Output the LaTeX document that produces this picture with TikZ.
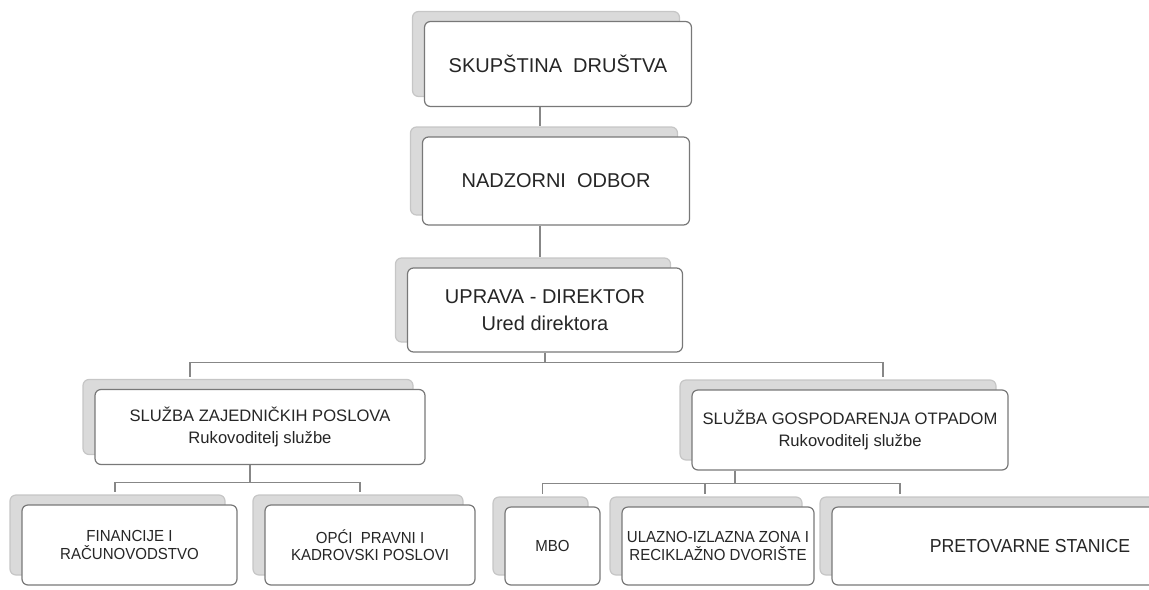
\documentclass[tikz,border=0pt]{standalone}
\usepackage{fontspec}
\setmainfont{Liberation Sans}
\usepackage{tikz}
\usetikzlibrary{shadows, calc}
\usepackage{xcolor}
\definecolor{boxgray}{RGB}{120,120,120}
\definecolor{shadegray}{RGB}{218,218,218}
\definecolor{linegray}{RGB}{135,135,135}

\begin{document}
\begin{tikzpicture}[
    x=0.5pt, y=-0.5pt,
    unit/.style={draw=boxgray, fill=white, rounded corners=3pt, line width=0.6pt, inner sep=0pt,
        align=center, text=black!85,
        copy shadow={shadow xshift=-6pt, shadow yshift=5pt, fill=shadegray, draw=gray!45}},
    big/.style={unit, font=\fontsize{10}{13.5}\selectfont},
    mid/.style={unit, font=\fontsize{8.3}{11}\selectfont},
    small/.style={unit, font=\fontsize{8}{8.6}\selectfont\addfontfeature{FakeStretch=0.94}},
    link/.style={draw=linegray, line width=0.6pt}
]
    \useasboundingbox (0,0) rectangle (1149,589);

    % Nodes
    \node[big, minimum width=133.5pt, minimum height=42.5pt] (skup) at (558,64) {SKUPŠTINA\ \ DRUŠTVA};
    \node[big, minimum width=133.5pt, minimum height=44pt] (nadz) at (556,181) {NADZORNI\ \ ODBOR};
    \node[big, minimum width=137.5pt, minimum height=42pt] (upr) at (545,310) {UPRAVA - DIREKTOR\\Ured direktora};

    \node[mid, minimum width=165pt, minimum height=37.5pt] (szp) at (260,427) {SLUŽBA ZAJEDNIČKIH POSLOVA\\Rukovoditelj službe};
    \node[mid, minimum width=158pt, minimum height=40pt] (sgo) at (850,430) {SLUŽBA GOSPODARENJA OTPADOM\\Rukovoditelj službe};

    \node[small, minimum width=107.5pt, minimum height=40pt] (fin) at (129.5,545) {FINANCIJE I\\RAČUNOVODSTVO};
    \node[small, minimum width=105pt, minimum height=40pt] (opci) at (370,545) {OPĆI\ \ PRAVNI I\\KADROVSKI POSLOVI};
    \node[small, minimum width=47.5pt, minimum height=39pt] (mbo) at (552.5,546) {MBO};
    \node[small, minimum width=96pt, minimum height=39pt] (ulaz) at (718,546) {ULAZNO-IZLAZNA ZONA I\\RECIKLAŽNO DVORIŠTE};
    \node[small, font=\fontsize{9.4}{10}\selectfont\addfontfeature{FakeStretch=0.94}, minimum width=198pt, minimum height=39pt] (pret) at (1030,546) {PRETOVARNE STANICE};

    % Lines
    \draw[link] ([xshift=-9pt]skup.south) -- ($(nadz.north)+(-16,-10)$);
    \draw[link] ([xshift=-8pt]nadz.south) -- ($(upr.north)+(-5,-10)$);

    \draw[link] (upr.south) -- ++(0,10) -| ($(szp.north)+(-70,-12)$);
    \draw[link] (upr.south) -- ++(0,10) -| ($(sgo.north)+(33,-12)$);

    \draw[link] ([xshift=-5pt]szp.south) -- ++(0,17) -| ($(fin.north)+(-14.5,-12)$);
    \draw[link] ([xshift=-5pt]szp.south) -- ++(0,17) -| ($(opci.north)+(-10,-12)$);

    \draw[link] ([xshift=-57.5pt]sgo.south) -- ++(0,13) -| ($(mbo.north)+(-10,-12)$);
    \draw[link] ([xshift=-57.5pt]sgo.south) -- ++(0,13) -| ($(ulaz.north)+(-13,-12)$);
    \draw[link] ([xshift=-57.5pt]sgo.south) -- ++(0,13) -| ($(pret.north)+(-130,-12)$);
\end{tikzpicture}
\end{document}
